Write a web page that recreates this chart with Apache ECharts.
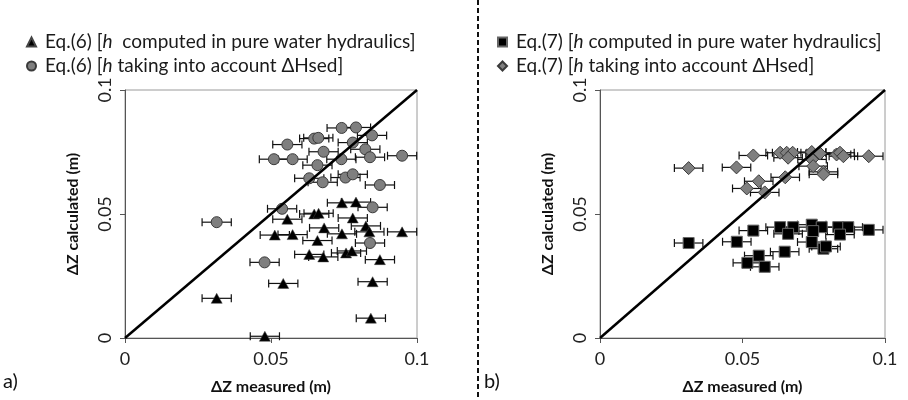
<!DOCTYPE html>
<html>
<head>
<meta charset="utf-8">
<script src="https://cdn.jsdelivr.net/npm/echarts@6/dist/echarts.min.js"></script>
<style>
  html, body { margin: 0; padding: 0; background: #fff; }
  #chart { width: 908px; height: 400px; }
</style>
</head>
<body>
<div id="chart"></div>
<script>
// measured, calculated (m)
var eq6Pure = [
  [0.0743, 0.0545], [0.0791, 0.0548], [0.0556, 0.0479], [0.0648, 0.0500], [0.0663, 0.0503],
  [0.0780, 0.0484], [0.0825, 0.0452], [0.0682, 0.0444], [0.0513, 0.0415], [0.0574, 0.0417],
  [0.0743, 0.0420], [0.0837, 0.0428], [0.0949, 0.0428], [0.0659, 0.0393], [0.0631, 0.0337],
  [0.0679, 0.0327], [0.0757, 0.0343], [0.0777, 0.0351], [0.0873, 0.0316], [0.0542, 0.0220],
  [0.0314, 0.0160], [0.0848, 0.0227], [0.0842, 0.0080], [0.0479, 0.0007]
];
var eq6Sed = [
  [0.0742, 0.0847], [0.0791, 0.0849], [0.0846, 0.0817], [0.0556, 0.0780], [0.0648, 0.0804],
  [0.0662, 0.0807], [0.0780, 0.0788], [0.0823, 0.0761], [0.0680, 0.0751], [0.0510, 0.0721],
  [0.0574, 0.0721], [0.0741, 0.0721], [0.0839, 0.0729], [0.0949, 0.0735], [0.0659, 0.0697],
  [0.0631, 0.0644], [0.0677, 0.0628], [0.0755, 0.0647], [0.0780, 0.0660], [0.0873, 0.0617],
  [0.0538, 0.0521], [0.0848, 0.0527], [0.0839, 0.0383], [0.0478, 0.0305], [0.0314, 0.0467]
];
var eq7Pure = [
  [0.0311, 0.0383], [0.0480, 0.0388], [0.0538, 0.0433], [0.0632, 0.0447], [0.0678, 0.0447],
  [0.0660, 0.0420], [0.0743, 0.0457], [0.0778, 0.0447], [0.0748, 0.0431], [0.0836, 0.0447],
  [0.0871, 0.0447], [0.0842, 0.0417], [0.0943, 0.0436], [0.0743, 0.0387], [0.0784, 0.0360],
  [0.0793, 0.0369], [0.0648, 0.0348], [0.0557, 0.0332], [0.0517, 0.0303], [0.0578, 0.0287]
];
var eq7Sed = [
  [0.0311, 0.0685], [0.0479, 0.0688], [0.0538, 0.0736], [0.0632, 0.0747], [0.0655, 0.0747],
  [0.0676, 0.0747], [0.0660, 0.0727], [0.0743, 0.0750], [0.0772, 0.0744], [0.0744, 0.0720],
  [0.0748, 0.0693], [0.0830, 0.0740], [0.0842, 0.0747], [0.0854, 0.0733], [0.0943, 0.0733],
  [0.0784, 0.0670], [0.0784, 0.0660], [0.0650, 0.0648], [0.0557, 0.0632], [0.0515, 0.0603],
  [0.0578, 0.0587]
];
var errHalf = 0.005;       // horizontal error bar, +/- m
var lineOfEquality = [[0, 0], [0.1, 0.1]];

var names = {
  p6: 'Eq.(6) [h  computed in pure water hydraulics]',
  s6: 'Eq.(6) [h taking into account \u0394Hsed]',
  p7: 'Eq.(7) [h computed in pure water hydraulics]',
  s7: 'Eq.(7) [h taking into account \u0394Hsed]'
};

var FONT = 'Lato';
var chart = echarts.init(document.getElementById('chart'), null, {renderer: 'canvas'});

function errData(arr) {
  return arr.map(function (d) { return [d[0], d[1], d[0] - errHalf, d[0] + errHalf]; });
}

function renderErr(params, api) {
  var y = api.value(1);
  var a = api.coord([api.value(2), y]);
  var b = api.coord([api.value(3), y]);
  var h = 4;
  var st = {stroke: '#111', lineWidth: 1.2};
  return {
    type: 'group',
    children: [
      {type: 'line', shape: {x1: a[0], y1: a[1], x2: b[0], y2: b[1]}, style: st},
      {type: 'line', shape: {x1: a[0], y1: a[1] - h, x2: a[0], y2: a[1] + h}, style: st},
      {type: 'line', shape: {x1: b[0], y1: b[1] - h, x2: b[0], y2: b[1] + h}, style: st}
    ]
  };
}

function xAx(idx) {
  return {
    gridIndex: idx, type: 'value', min: 0, max: 0.1, interval: 0.05,
    name: '\u0394Z measured (m)', nameLocation: 'middle', nameGap: 41,
    nameTextStyle: {fontFamily: FONT, fontWeight: 'bold', fontSize: 16, color: '#111'},
    axisLine: {show: true, onZero: false, lineStyle: {color: '#555', width: 1}},
    axisTick: {show: true, length: 5, lineStyle: {color: '#555'}},
    axisLabel: {fontFamily: FONT, fontSize: 18, color: '#222', margin: 12},
    splitLine: {show: false}
  };
}
function yAx(idx) {
  return {
    gridIndex: idx, type: 'value', min: 0, max: 0.1, interval: 0.05,
    name: '\u0394Z calculated (m)', nameLocation: 'middle', nameGap: 44,
    nameTextStyle: {fontFamily: FONT, fontWeight: 'bold', fontSize: 16, color: '#111'},
    axisLine: {show: true, onZero: false, lineStyle: {color: '#555', width: 1}},
    axisTick: {show: true, length: 5, lineStyle: {color: '#555'}},
    axisLabel: {fontFamily: FONT, fontSize: 18, color: '#222', rotate: 90, margin: 11},
    splitLine: {show: false}
  };
}

function legendFmt(n) {
  return n.replace('[h', '[{i|h}');
}
function legend(left, data) {
  return {
    data: data, left: left, top: 26, orient: 'vertical',
    itemWidth: 9, itemHeight: 9, itemGap: 2,
    formatter: legendFmt,
    textStyle: {
      fontFamily: FONT, fontSize: 19, color: '#1a1a1a', lineHeight: 22,
      padding: [0, 0, 0, 4],
      rich: {i: {fontFamily: FONT, fontSize: 19, fontStyle: 'italic', color: '#1a1a1a'}}
    }
  };
}

var option = {
  animation: false,
  backgroundColor: '#fff',
  grid: [
    {left: 125, top: 90, width: 292, height: 250, show: true, borderColor: '#9a9a9a', borderWidth: 1},
    {left: 600, top: 90, width: 285, height: 250, show: true, borderColor: '#9a9a9a', borderWidth: 1}
  ],
  xAxis: [xAx(0), xAx(1)],
  yAxis: [yAx(0), yAx(1)],
  legend: [legend(21, [names.p6, names.s6]), legend(492, [names.p7, names.s7])],
  graphic: [
    {type: 'line', shape: {x1: 478, y1: 0, x2: 478, y2: 400},
      style: {stroke: '#111', lineWidth: 2, lineDash: [5, 3]}},
    {type: 'text', left: 3, top: 372,
      style: {text: 'a)', fontFamily: FONT, fontSize: 20, fill: '#111'}},
    {type: 'text', left: 484, top: 372,
      style: {text: 'b)', fontFamily: FONT, fontSize: 20, fill: '#111'}}
  ],
  series: [
    {type: 'custom', xAxisIndex: 0, yAxisIndex: 0, renderItem: renderErr, data: errData(eq6Pure), encode: {x: 0, y: 1}, z: 2},
    {type: 'custom', xAxisIndex: 0, yAxisIndex: 0, renderItem: renderErr, data: errData(eq6Sed), encode: {x: 0, y: 1}, z: 2},
    {type: 'custom', xAxisIndex: 1, yAxisIndex: 1, renderItem: renderErr, data: errData(eq7Sed), encode: {x: 0, y: 1}, z: 2},
    {type: 'custom', xAxisIndex: 1, yAxisIndex: 1, renderItem: renderErr, data: errData(eq7Pure), encode: {x: 0, y: 1}, z: 2},
    {name: names.p6, type: 'scatter', xAxisIndex: 0, yAxisIndex: 0, data: eq6Pure,
      symbol: 'triangle', symbolSize: [11, 10], z: 3,
      itemStyle: {color: '#000', borderColor: '#444', borderWidth: 0.5, opacity: 1}},
    {name: names.s6, type: 'scatter', xAxisIndex: 0, yAxisIndex: 0, data: eq6Sed,
      symbol: 'circle', symbolSize: 11, z: 4,
      itemStyle: {color: '#7f7f7f', borderColor: '#3a3a3a', borderWidth: 1, opacity: 1}},
    {name: names.s7, type: 'scatter', xAxisIndex: 1, yAxisIndex: 1, data: eq7Sed,
      symbol: 'diamond', symbolSize: 13, z: 3,
      itemStyle: {color: '#7f7f7f', borderColor: '#3a3a3a', borderWidth: 1, opacity: 1}},
    {name: names.p7, type: 'scatter', xAxisIndex: 1, yAxisIndex: 1, data: eq7Pure,
      symbol: 'rect', symbolSize: 11, z: 4,
      itemStyle: {color: '#000', borderColor: '#666', borderWidth: 1, opacity: 1}},
    {type: 'line', xAxisIndex: 0, yAxisIndex: 0, data: lineOfEquality, symbol: 'none', z: 5,
      lineStyle: {color: '#000', width: 2.5}, silent: true},
    {type: 'line', xAxisIndex: 1, yAxisIndex: 1, data: lineOfEquality, symbol: 'none', z: 5,
      lineStyle: {color: '#000', width: 2.5}, silent: true}
  ]
};
chart.setOption(option);
</script>
</body>
</html>
